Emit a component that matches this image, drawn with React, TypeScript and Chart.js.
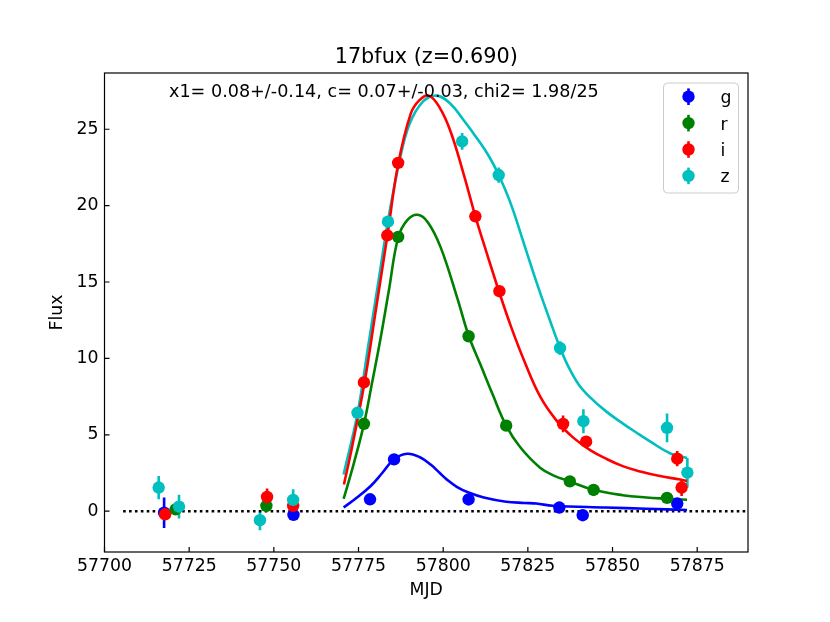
import { useEffect, useRef } from 'react'
import Chart from 'chart.js/auto'

const FONT = "'DejaVu Sans', sans-serif"

const chartTitle = '17bfux (z=0.690)'
const fitLabel = 'x1= 0.08+/-0.14, c= 0.07+/-0.03, chi2= 1.98/25'

const bands = ['g', 'r', 'i', 'z']
const bandColors = ['#0000ff', '#008000', '#ff0000', '#00bfbf']

const xTicks = [57700, 57725, 57750, 57775, 57800, 57825, 57850, 57875]
const yTicks = [0, 5, 10, 15, 20, 25]

// observed fluxes per band
const gMjd = [57717.6, 57755.8, 57778.4, 57785.5, 57807.5, 57834.3, 57841.2, 57869.1]
const gFlux = [-0.1, -0.24, 0.78, 3.39, 0.77, 0.24, -0.26, 0.5]
const gErr = [1.0, 0.3, 0.3, 0.3, 0.3, 0.3, 0.3, 0.3]

const rMjd = [57721.0, 57747.8, 57776.6, 57786.7, 57807.5, 57818.6, 57837.4, 57844.4, 57866.1]
const rFlux = [0.12, 0.35, 5.72, 17.95, 11.45, 5.6, 1.95, 1.39, 0.87]
const rErr = [0.3, 0.3, 0.3, 0.3, 0.3, 0.3, 0.3, 0.3, 0.3]

const iMjd = [57717.9, 57748.0, 57755.7, 57776.6, 57783.5, 57786.7, 57809.5, 57816.6, 57835.4, 57842.2, 57869.1, 57870.4]
const iFlux = [-0.2, 0.93, 0.35, 8.43, 18.05, 22.8, 19.3, 14.4, 5.71, 4.55, 3.44, 1.55]
const iErr = [0.35, 0.55, 0.4, 0.35, 0.35, 0.35, 0.35, 0.35, 0.55, 0.35, 0.5, 0.55]

const zMjd = [57716.0, 57722.0, 57745.9, 57755.7, 57774.7, 57783.7, 57805.6, 57816.4, 57834.5, 57841.4, 57866.1, 57872.1]
const zFlux = [1.55, 0.3, -0.59, 0.74, 6.44, 18.95, 24.2, 22.0, 10.68, 5.89, 5.46, 2.52]
const zErr = [0.76, 0.78, 0.65, 0.7, 0.35, 0.35, 0.55, 0.5, 0.45, 0.78, 0.94, 0.97]

// fitted model curves
const gModelMjd = [57770.6, 57774, 57778.6, 57782, 57785.5, 57789.4, 57793, 57796.3, 57799, 57801.2, 57804, 57807.5, 57812, 57818.6, 57824, 57827.5, 57832.4, 57848, 57860, 57872]
const gModelFlux = [0.25, 0.8, 1.65, 2.5, 3.4, 3.76, 3.55, 3.05, 2.5, 2.05, 1.6, 1.22, 0.9, 0.62, 0.54, 0.5, 0.36, 0.24, 0.16, 0.08]

const rModelMjd = [57770.6, 57773.7, 57776.6, 57779, 57781.5, 57784, 57786.7, 57789.4, 57792.5, 57795.5, 57799.2, 57804.1, 57807.5, 57811, 57814.5, 57818.6, 57822.7, 57828.6, 57833, 57837.4, 57844.4, 57853, 57860, 57866, 57872]
const rModelFlux = [0.8, 3.2, 5.7, 8.4, 11.3, 14.5, 17.9, 19.05, 19.4, 18.9, 17.3, 14.0, 11.5, 9.6, 7.7, 5.6, 4.2, 2.85, 2.3, 1.95, 1.4, 1.05, 0.9, 0.82, 0.75]

const iModelMjd = [57770.7, 57773, 57776.8, 57780, 57783.5, 57786.7, 57790.4, 57793, 57795.8, 57799, 57802.1, 57806, 57809.5, 57813, 57816.6, 57820, 57824, 57828.65, 57833.6, 57838.5, 57843.4, 57848.4, 57853, 57858.2, 57864, 57870, 57872]
const iModelFlux = [1.75, 4.1, 8.45, 13.0, 18.0, 22.7, 26.0, 26.9, 27.2, 26.4, 24.9, 22.1, 19.3, 16.8, 14.3, 12.1, 9.8, 7.5, 5.9, 4.8, 4.0, 3.4, 2.95, 2.6, 2.3, 2.07, 1.98]

const zModelMjd = [57770.6, 57774.7, 57778, 57781, 57783.7, 57787, 57790, 57794, 57798, 57802, 57806, 57810, 57813.6, 57816.4, 57820, 57824, 57828, 57831.5, 57834.5, 57837, 57840, 57843.4, 57848, 57853.3, 57857, 57861.2, 57867.1, 57872]
const zModelFlux = [2.4, 6.4, 11.0, 15.2, 19.0, 22.8, 25.3, 26.8, 27.2, 26.7, 25.6, 24.4, 23.2, 22.0, 20.1, 17.4, 14.7, 12.5, 10.7, 9.45, 8.3, 7.45, 6.55, 5.7, 5.15, 4.55, 3.78, 3.48]

const zeroLineMjd = [57705.5, 57890]

const observations = [
  { mjd: gMjd, flux: gFlux, err: gErr },
  { mjd: rMjd, flux: rFlux, err: rErr },
  { mjd: iMjd, flux: iFlux, err: iErr },
  { mjd: zMjd, flux: zFlux, err: zErr },
]
const models = [
  { mjd: gModelMjd, flux: gModelFlux },
  { mjd: rModelMjd, flux: rModelFlux },
  { mjd: iModelMjd, flux: iModelFlux },
  { mjd: zModelMjd, flux: zModelFlux },
]

const toPoints = (xs: number[], ys: number[]) => xs.map((x, i) => ({ x, y: ys[i] }))

// frame, inward ticks, title, fit text, error bars and legend in the matplotlib look
const decorations = {
  id: 'decorations',
  beforeDatasetsDraw(chart: any) {
    const { ctx, scales } = chart
    const { x, y } = scales
    ctx.save()
    ctx.beginPath()
    ctx.rect(chart.chartArea.left, chart.chartArea.top, chart.chartArea.width, chart.chartArea.height)
    ctx.clip()
    ctx.lineWidth = 2.6
    observations.forEach((o, b) => {
      ctx.strokeStyle = bandColors[b]
      o.mjd.forEach((m, i) => {
        const px = x.getPixelForValue(m)
        ctx.beginPath()
        ctx.moveTo(px, y.getPixelForValue(o.flux[i] - o.err[i]))
        ctx.lineTo(px, y.getPixelForValue(o.flux[i] + o.err[i]))
        ctx.stroke()
      })
    })
    ctx.restore()
  },
  afterDraw(chart: any) {
    const { ctx, chartArea: area, scales } = chart
    const { x, y } = scales
    ctx.save()
    ctx.strokeStyle = '#000'
    ctx.lineWidth = 1.2
    ctx.strokeRect(area.left, area.top, area.width, area.height)
    ctx.beginPath()
    xTicks.forEach((v) => {
      const px = x.getPixelForValue(v)
      ctx.moveTo(px, area.bottom)
      ctx.lineTo(px, area.bottom - 5)
    })
    yTicks.forEach((v) => {
      const py = y.getPixelForValue(v)
      ctx.moveTo(area.left, py)
      ctx.lineTo(area.left + 5, py)
    })
    ctx.stroke()

    ctx.fillStyle = '#000'
    ctx.textAlign = 'center'
    ctx.textBaseline = 'alphabetic'
    ctx.font = `20.8px ${FONT}`
    ctx.fillText(chartTitle, (area.left + area.right) / 2, 63)
    ctx.textAlign = 'left'
    ctx.font = `17.6px ${FONT}`
    ctx.fillText(fitLabel, 169, 97)

    // legend
    const lx = 663.5
    const ly = 83
    const lw = 75
    const lh = 110
    ctx.beginPath()
    ctx.roundRect(lx, ly, lw, lh, 4)
    ctx.fillStyle = 'rgba(255,255,255,0.8)'
    ctx.fill()
    ctx.strokeStyle = '#cccccc'
    ctx.lineWidth = 1
    ctx.stroke()
    ctx.font = `17.3px ${FONT}`
    bands.forEach((band, b) => {
      const cy = 96.7 + b * 26.4
      ctx.strokeStyle = bandColors[b]
      ctx.fillStyle = bandColors[b]
      ctx.lineWidth = 2.6
      ctx.beginPath()
      ctx.moveTo(688.5, cy - 8.3)
      ctx.lineTo(688.5, cy + 8.3)
      ctx.stroke()
      ctx.beginPath()
      ctx.arc(688.5, cy, 6.2, 0, Math.PI * 2)
      ctx.fill()
      ctx.fillStyle = '#000'
      ctx.fillText(band, 720.5, cy + 6.5)
    })
    ctx.restore()
  },
}

export default function App() {
  const chartRef = useRef<HTMLCanvasElement>(null)
  const chartInstance = useRef<Chart | null>(null)

  useEffect(() => {
    if (chartInstance.current) chartInstance.current.destroy()
    const ctx = chartRef.current!.getContext('2d')!

    const datasets: any[] = [
      {
        type: 'line',
        data: toPoints(zeroLineMjd, [0, 0]),
        borderColor: '#000',
        borderWidth: 2.6,
        borderDash: [2.6, 3.3],
        pointRadius: 0,
        order: 10,
      },
    ]
    models.forEach((m, b) => {
      datasets.push({
        type: 'line',
        data: toPoints(m.mjd, m.flux),
        borderColor: bandColors[b],
        borderWidth: 2.6,
        pointRadius: 0,
        tension: 0.4,
        order: 5,
      })
    })
    observations.forEach((o, b) => {
      datasets.push({
        type: 'scatter',
        label: bands[b],
        data: toPoints(o.mjd, o.flux),
        backgroundColor: bandColors[b],
        borderWidth: 0,
        pointRadius: 6.2,
        order: 4 - b,
      })
    })

    chartInstance.current = new Chart(ctx, {
      type: 'scatter',
      data: { datasets },
      options: {
        animation: false,
        responsive: true,
        maintainAspectRatio: false,
        events: [],
        layout: { padding: { top: 73, right: 82, bottom: 0, left: 0 } },
        scales: {
          x: {
            type: 'linear',
            min: 57700,
            max: 57890,
            afterFit: (scale: any) => {
              scale.height = 70
            },
            afterBuildTicks: (axis: any) => {
              axis.ticks = xTicks.map((value) => ({ value }))
            },
            grid: { display: false, drawTicks: false },
            border: { display: false },
            ticks: {
              color: '#000',
              padding: 4,
              maxRotation: 0,
              font: { family: FONT, size: 17.3 },
              callback: (v: any) => String(v),
            },
            title: {
              display: true,
              text: 'MJD',
              color: '#000',
              font: { family: FONT, size: 17.3 },
              padding: { top: 0, bottom: 21 },
            },
          },
          y: {
            type: 'linear',
            min: -2.67,
            max: 28.68,
            afterFit: (scale: any) => {
              scale.width = 104.5
            },
            afterBuildTicks: (axis: any) => {
              axis.ticks = yTicks.map((value) => ({ value }))
            },
            grid: { display: false, drawTicks: false },
            border: { display: false },
            ticks: {
              color: '#000',
              padding: 6,
              font: { family: FONT, size: 17.3 },
              callback: (v: any) => String(v),
            },
            title: {
              display: true,
              text: 'Flux',
              color: '#000',
              font: { family: FONT, size: 17.3 },
              padding: { top: 47, bottom: 0 },
            },
          },
        },
        plugins: {
          legend: { display: false },
          tooltip: { enabled: false },
          title: { display: false },
        },
      },
      plugins: [decorations],
    })

    return () => {
      if (chartInstance.current) {
        chartInstance.current.destroy()
        chartInstance.current = null
      }
    }
  }, [])

  return (
    <div style={{ position: 'fixed', left: 0, top: 0, width: 830, height: 622, background: '#fff' }}>
      <canvas ref={chartRef} />
    </div>
  )
}
